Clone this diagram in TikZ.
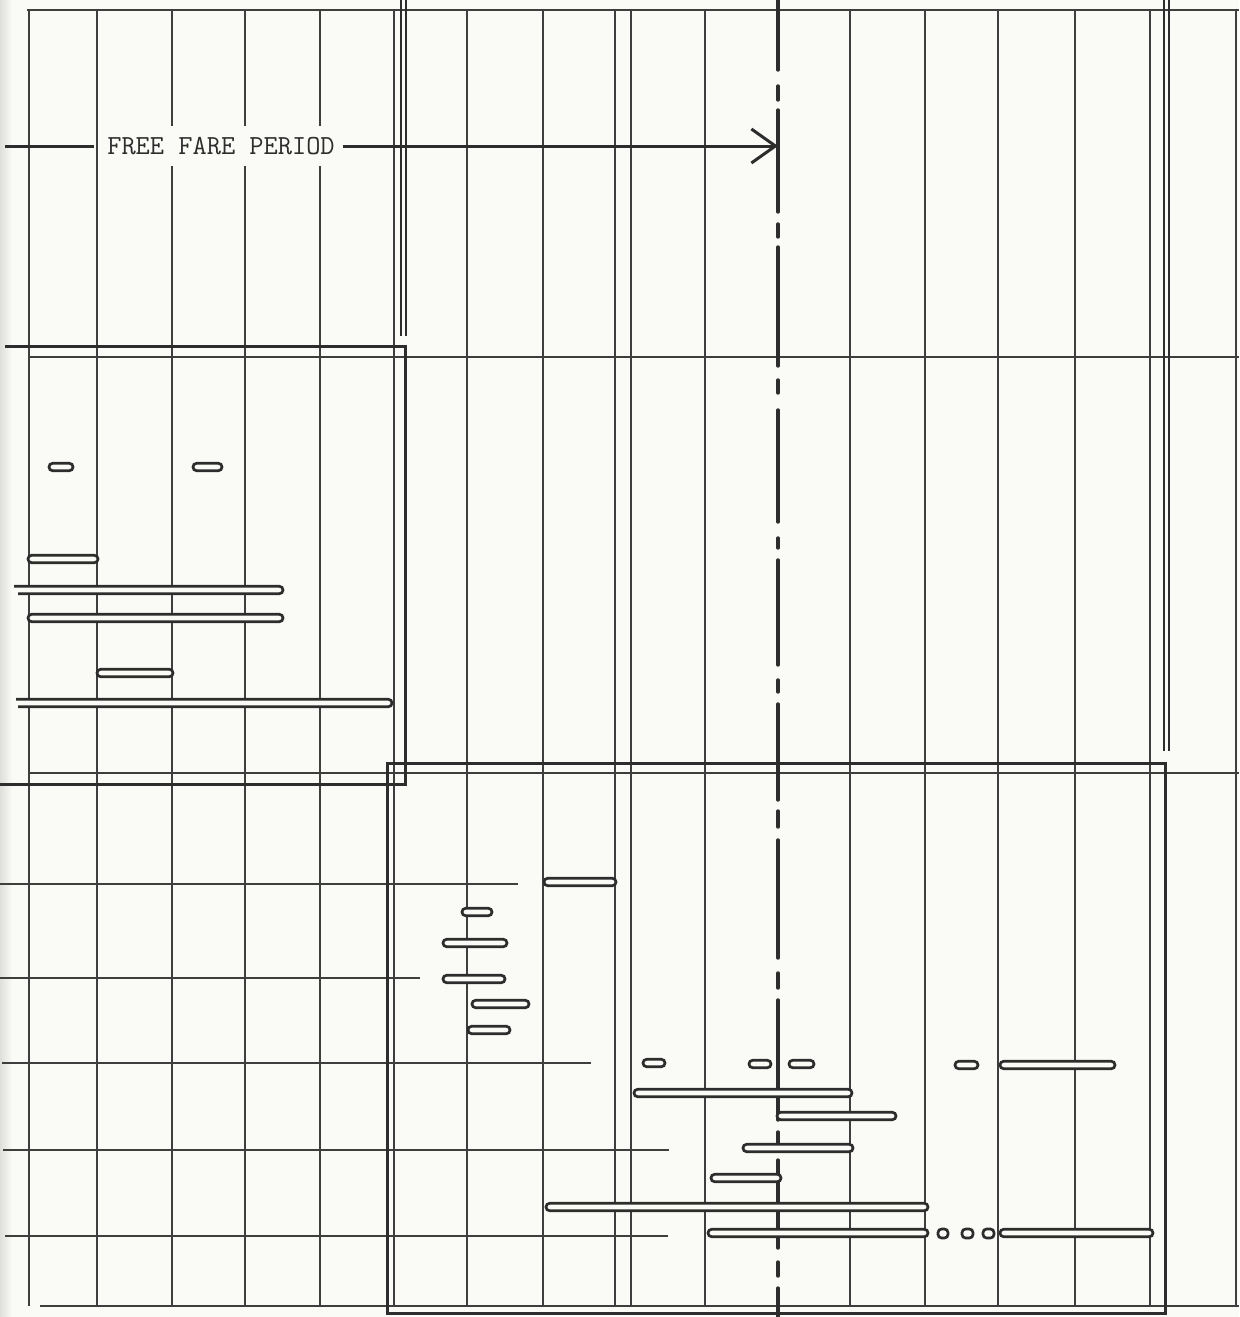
\documentclass[tikz,border=0pt]{standalone}
\usepackage{fontspec}
\usetikzlibrary{arrows.meta}
\definecolor{paper}{RGB}{250,250,247}
\definecolor{ink}{RGB}{45,45,45}
\definecolor{gridink}{RGB}{62,62,62}
\definecolor{shade}{RGB}{222,222,218}
\begin{document}
\begin{tikzpicture}[x=0.5pt,y=-0.5pt,
  gridline/.style={gridink,line width=0.55pt},
  heavyline/.style={ink,line width=1.5pt},
  doubleline/.style={ink,line width=1.05pt},
  ganttbar/.style={ink,line width=1.35pt,rounded corners=1.8pt,fill=paper},
  axisline/.style={ink,line width=1.7pt,line cap=round},
  arrowline/.style={ink,line width=1.5pt},
  label/.style={fill=paper,text=ink,font=\ttfamily\fontsize{13.8}{16}\selectfont,
    inner xsep=2.8pt,inner ysep=0pt,minimum height=20pt}
]
% paper
\fill[paper] (0,0) rectangle (1239,1317);
\useasboundingbox (0,0) rectangle (1239,1317);
\shade[left color=shade,right color=paper] (0,0) rectangle (12,1317);

% vertical grid lines
\foreach \gx in {29,97,172,245,320,394,467,543,615,631,705,850,925,998,1075,1150,1236}
  \draw[gridline] (\gx,10) -- (\gx,1306);

% horizontal grid lines
\draw[gridline] (27,10) -- (1239,10);
\draw[gridline] (30,357) -- (1239,357);
\draw[gridline] (30,773) -- (1239,773);
\draw[gridline] (40,1306) -- (1239,1306);
\draw[gridline] (0,884) -- (518,884);
\draw[gridline] (0,978) -- (420,978);
\draw[gridline] (2,1063) -- (591,1063);
\draw[gridline] (3,1150) -- (669,1150);
\draw[gridline] (5,1236) -- (668,1236);

% heavy frames
\draw[heavyline] (5,346) -- (405,346) -- (405,784) -- (0,784);
\draw[heavyline] (387,763) rectangle (1165,1313);
\draw[doubleline] (401,0) -- (401,336);
\draw[doubleline] (406,0) -- (406,336);
\draw[doubleline] (1164,0) -- (1164,751);
\draw[doubleline] (1169,0) -- (1169,751);

% dash-dot reference line
\foreach \ya/\yb in {0/70,86/100,110/212,224/237,247/366,380/393,410/522,538/548,560/665,680/692,704/800,811/827,840/958,973/988,1000/1120,1132/1147,1160/1248,1262/1276,1288/1317}
  \draw[axisline] (778,\ya) -- (778,\yb);

% bars, left block
\draw[ganttbar] (49,463.3) rectangle (73,470.7);
\draw[ganttbar] (193,463.3) rectangle (222,470.7);
\draw[ganttbar] (28,555.3) rectangle (98,562.7);
\draw[ganttbar] (14,586.3) -- (283,586.3) -- (283,593.7) -- (18,593.7);
\draw[ganttbar] (28,614.3) rectangle (283,621.7);
\draw[ganttbar] (97,669.3) rectangle (173,676.7);
\draw[ganttbar] (16,699.3) -- (392,699.3) -- (392,706.7) -- (18,706.7);

% bars, right block
\draw[ganttbar] (544,878.3) rectangle (616,885.7);
\draw[ganttbar] (462,908.3) rectangle (492,915.7);
\draw[ganttbar] (443,939.3) rectangle (507,946.7);
\draw[ganttbar] (443,975.3) rectangle (505,982.7);
\draw[ganttbar] (472,1000.3) rectangle (529,1007.7);
\draw[ganttbar] (468,1026.3) rectangle (510,1033.7);
\draw[ganttbar] (643,1059.3) rectangle (665,1066.7);
\draw[ganttbar] (749,1060.3) rectangle (771,1067.7);
\draw[ganttbar] (789,1060.3) rectangle (814,1067.7);
\draw[ganttbar] (955,1061.3) rectangle (978,1068.7);
\draw[ganttbar] (1000,1061.3) rectangle (1115,1068.7);
\draw[ganttbar] (634,1089.3) rectangle (852,1096.7);
\draw[ganttbar] (777,1112.3) rectangle (896,1119.7);
\draw[ganttbar] (743,1144.3) rectangle (853,1151.7);
\draw[ganttbar] (711,1174.3) rectangle (781,1181.7);
\draw[ganttbar] (546,1203.3) rectangle (928,1210.7);
\draw[ganttbar] (708,1229.3) rectangle (928,1236.7);
\draw[ganttbar] (938,1229) rectangle (948,1238);
\draw[ganttbar] (962,1229) rectangle (973,1238);
\draw[ganttbar] (983,1229) rectangle (994,1238);
\draw[ganttbar] (1000,1229.3) rectangle (1153,1236.7);

% free fare period label and arrow
\coordinate (ffstart) at (5,146);
\coordinate (ffend) at (778,146);
\node[label] (ffp) at (221,146) {FREE FARE PERIOD};
\draw[arrowline,shorten >=3.7pt] (ffstart) -- (ffp);
\draw[arrowline,shorten <=1.2pt,-{Straight Barb[length=12pt,width=17pt,line width=1.5pt]}] (ffp) -- (ffend);
\end{tikzpicture}
\end{document}
